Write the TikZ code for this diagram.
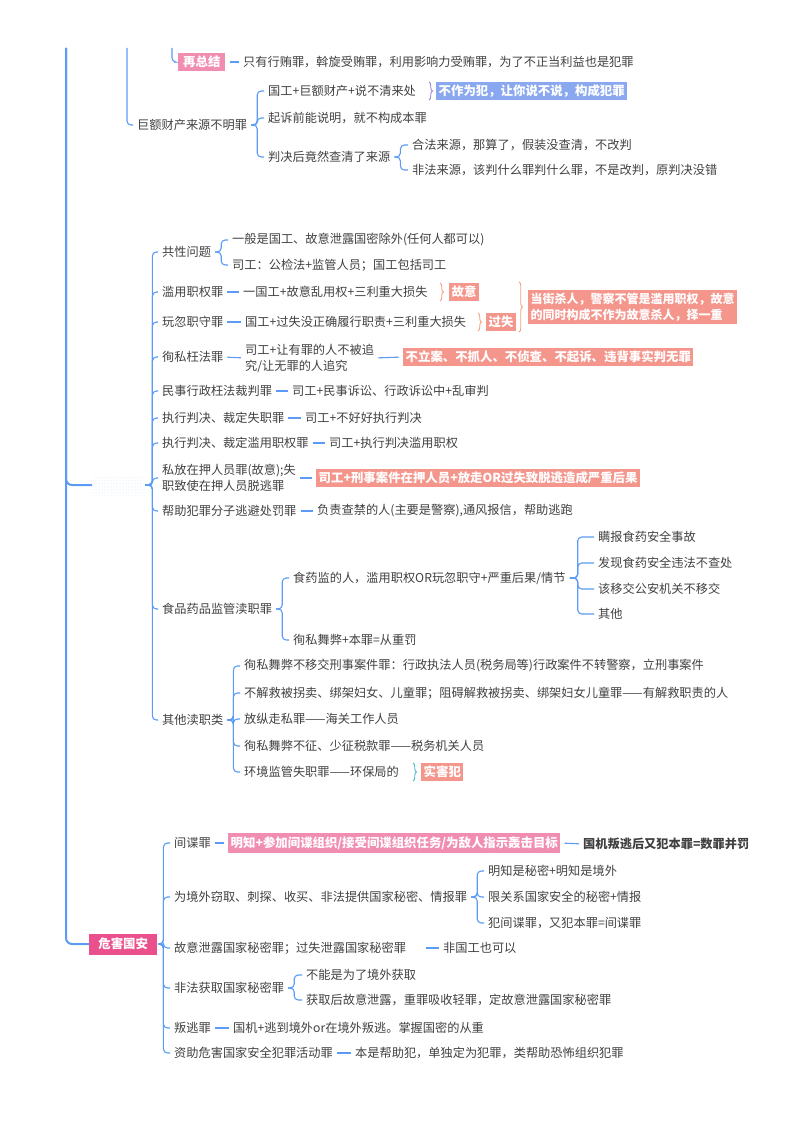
\documentclass[tikz,border=0pt]{standalone}
\usepackage{fontspec}
\usetikzlibrary{patterns,decorations.pathreplacing}
\newfontfamily\cjk{Noto Sans CJK SC}
\definecolor{linkblue}{HTML}{5B9BF5}
\definecolor{txtgray}{HTML}{404040}
\definecolor{tagpink}{HTML}{F28DB2}
\definecolor{tagrose}{HTML}{E9508C}
\definecolor{tagsalmon}{HTML}{F5968D}
\definecolor{tagblue}{HTML}{8AA8F0}
\definecolor{brcviolet}{HTML}{9B7FD8}
\definecolor{brcorange}{HTML}{F4A07A}
\definecolor{brcteal}{HTML}{4DB6C6}

\begin{document}
\begin{tikzpicture}[
  x=1pt, y=-1pt,
  txt/.style={anchor=west,inner sep=0pt,font=\cjk\fontsize{12.2}{16}\selectfont,text=txtgray,align=left},
  tag/.style={anchor=west,inner xsep=2.5pt,inner ysep=3pt,font=\cjk\bfseries\fontsize{12.4}{16}\selectfont,text=white,align=left},
  link/.style={draw=linkblue,line width=1.1pt,rounded corners=4pt,shorten <=4pt,shorten >=4pt},
  trunk/.style={draw=linkblue,line width=2pt,rounded corners=6pt},
  brc/.style={decorate,decoration={brace,amplitude=3.5pt},line width=0.9pt}
]
  \useasboundingbox (0,0) rectangle (800,1132);
  \coordinate (tA) at (66,48);
  \coordinate (tB) at (127,48);
  \coordinate (tC) at (172,48);

  % top part
  \node[tag,fill=tagpink,inner xsep=5pt] (zz) at (178,62) {再总结};
  \node[txt] (zz1) at (243,62) {只有行贿罪，斡旋受贿罪，利用影响力受贿罪，为了不正当利益也是犯罪};
  \node[txt] (jr) at (137,125) {巨额财产来源不明罪};
  \node[txt] (jr1) at (268,91) {国工+巨额财产+说不清来处};
  \node[tag,fill=tagblue] (jr1a) at (436,91) {不作为犯，让你说不说，构成犯罪};
  \node[txt] (jr2) at (268,118) {起诉前能说明，就不构成本罪};
  \node[txt] (jr3) at (268,157) {判决后竟然查清了来源};
  \node[txt] (jr3a) at (412,145) {合法来源，那算了，假装没查清，不改判};
  \node[txt] (jr3b) at (412,170) {非法来源，该判什么罪判什么罪，不是改判，原判决没错};

  \draw[link,shorten <=0pt] (tC) |- (zz.west);
  \draw[link] (zz.east) -- (zz1.west);
  \draw[link,shorten <=0pt] (tB) |- (jr.west);
  \foreach \c in {jr1,jr2,jr3}
    \draw[link] (jr.east) -- ++(10,0) |- (\c.west);
  \foreach \c in {jr3a,jr3b}
    \draw[link] (jr3.east) -- ++(10,0) |- (\c.west);
  \draw[brc,draw=brcviolet] (429,82) -- (429,100);

  % duty crimes
  \node[anchor=west,minimum width=52pt,minimum height=20pt,inner sep=0pt,
        pattern=dots,pattern color=linkblue!30] (dz) at (92,485) {};
  \node[txt] (g1) at (162,252) {共性问题};
  \node[txt] (g1a) at (232,240) {一般是国工、故意泄露国密除外(任何人都可以)};
  \node[txt] (g1b) at (232,265) {司工：公检法+监管人员；国工包括司工};
  \node[txt] (g2) at (162,292) {滥用职权罪};
  \node[txt] (g2a) at (243,292) {一国工+故意乱用权+三利重大损失};
  \node[tag,fill=tagsalmon] (g2b) at (449,292) {故意};
  \node[txt] (g3) at (162,322) {玩忽职守罪};
  \node[txt] (g3a) at (245,322) {国工+过失没正确履行职责+三利重大损失};
  \node[tag,fill=tagsalmon] (g3b) at (486,322) {过失};
  \node[tag,fill=tagsalmon,font=\cjk\bfseries\fontsize{12}{16}\selectfont] (g23) at (528,307) {当街杀人，警察不管是滥用职权，故意\\的同时构成不作为故意杀人，择一重};
  \node[txt] (g4) at (162,357) {徇私枉法罪};
  \node[txt] (g4a) at (245,358) {司工+让有罪的人不被追\\究/让无罪的人追究};
  \node[tag,fill=tagsalmon] (g4b) at (403,357) {不立案、不抓人、不侦查、不起诉、违背事实判无罪};
  \node[txt] (g5) at (162,391) {民事行政枉法裁判罪};
  \node[txt] (g5a) at (292,391) {司工+民事诉讼、行政诉讼中+乱审判};
  \node[txt] (g6) at (162,418) {执行判决、裁定失职罪};
  \node[txt] (g6a) at (305,418) {司工+不好好执行判决};
  \node[txt] (g7) at (162,443) {执行判决、裁定滥用职权罪};
  \node[txt] (g7a) at (329,443) {司工+执行判决滥用职权};
  \node[txt] (g8) at (162,478) {私放在押人员罪(故意);失\\职致使在押人员脱逃罪};
  \node[tag,fill=tagsalmon] (g8a) at (316,478) {司工+刑事案件在押人员+放走OR过失致脱逃造成严重后果};
  \node[txt] (g9) at (162,511) {帮助犯罪分子逃避处罚罪};
  \node[txt] (g9a) at (317,511) {负责查禁的人(主要是警察),通风报信，帮助逃跑};
  \node[txt] (g10) at (162,609) {食品药品监管渎职罪};
  \node[txt] (g10a) at (293,578) {食药监的人，滥用职权OR玩忽职守+严重后果/情节};
  \node[txt] (g10a1) at (598,537) {瞒报食药安全事故};
  \node[txt] (g10a2) at (598,563) {发现食药安全违法不查处};
  \node[txt] (g10a3) at (598,589) {该移交公安机关不移交};
  \node[txt] (g10a4) at (598,614) {其他};
  \node[txt] (g10b) at (293,640) {徇私舞弊+本罪=从重罚};
  \node[txt] (g11) at (162,720) {其他渎职类};
  \node[txt] (g11a) at (244,666) {徇私舞弊不移交刑事案件罪：行政执法人员(税务局等)行政案件不转警察，立刑事案件};
  \node[txt] (g11b) at (244,693) {不解救被拐卖、绑架妇女、儿童罪；阻碍解救被拐卖、绑架妇女儿童罪——有解救职责的人};
  \node[txt] (g11c) at (244,719) {放纵走私罪——海关工作人员};
  \node[txt] (g11d) at (244,746) {徇私舞弊不征、少征税款罪——税务机关人员};
  \node[txt] (g11e) at (244,772) {环境监管失职罪——环保局的};
  \node[tag,fill=tagsalmon] (g11f) at (421,772) {实害犯};

  \draw[trunk] (tA) |- (dz.west);
  \foreach \c in {g1,g2,g3,g4,g5,g6,g7,g8,g9,g10,g11}
    \draw[link,shorten <=1pt] (dz.east) -- ++(8,0) |- (\c.west);
  \foreach \c in {g1a,g1b}
    \draw[link] (g1.east) -- ++(10,0) |- (\c.west);
  \foreach \p in {g2,g3,g5,g6,g7,g9}
    \draw[link] (\p.east) -- (\p a.west);
  \draw[link] (g4.east) -- (g4a.west);
  \draw[link] (g4a.east) -- (g4b.west);
  \draw[link] (g8.east) -- (g8a.west);
  \foreach \c in {g10a,g10b}
    \draw[link] (g10.east) -- ++(10,0) |- (\c.west);
  \foreach \c in {g10a1,g10a2,g10a3,g10a4}
    \draw[link] (g10a.east) -- ++(12,0) |- (\c.west);
  \foreach \c in {g11a,g11b,g11c,g11d,g11e}
    \draw[link] (g11.east) -- ++(10,0) |- (\c.west);
  \draw[brc,draw=brcorange] (440,283) -- (440,301);
  \draw[brc,draw=brcorange] (478,313) -- (478,331);
  \draw[brc,draw=brcorange] (519,282) -- (519,332);
  \draw[brc,draw=brcteal] (413,763) -- (413,781);

  % national security
  \node[tag,fill=tagrose,minimum width=68pt,minimum height=21pt,inner xsep=0pt,
        align=center,anchor=west] (ga) at (89,944) {危害国安};
  \node[txt] (h1) at (174,843) {间谍罪};
  \node[tag,fill=tagpink] (h1a) at (228,843) {明知+参加间谍组织/接受间谍组织任务/为敌人指示轰击目标};
  \node[txt,font=\cjk\bfseries\fontsize{12.2}{14}\selectfont] (h1b) at (583,844) {国机叛逃后又犯本罪=数罪并罚};
  \node[txt] (h2) at (174,897) {为境外窃取、刺探、收买、非法提供国家秘密、情报罪};
  \node[txt] (h2a) at (488,871) {明知是秘密+明知是境外};
  \node[txt] (h2b) at (488,897) {限关系国家安全的秘密+情报};
  \node[txt] (h2c) at (488,923) {犯间谍罪，又犯本罪=间谍罪};
  \node[txt] (h3) at (174,948) {故意泄露国家秘密罪；过失泄露国家秘密罪};
  \node[txt] (h3a) at (443,948) {非国工也可以};
  \node[txt] (h4) at (174,988) {非法获取国家秘密罪};
  \node[txt] (h4a) at (306,975) {不能是为了境外获取};
  \node[txt] (h4b) at (306,1000) {获取后故意泄露，重罪吸收轻罪，定故意泄露国家秘密罪};
  \node[txt] (h5) at (174,1028) {叛逃罪};
  \node[txt] (h5a) at (233,1028) {国机+逃到境外or在境外叛逃。掌握国密的从重};
  \node[txt] (h6) at (174,1053) {资助危害国家安全犯罪活动罪};
  \node[txt] (h6a) at (355,1053) {本是帮助犯，单独定为犯罪，类帮助恐怖组织犯罪};

  \draw[trunk] (tA) |- (ga.west);
  \foreach \c in {h1,h2,h3,h4,h5,h6}
    \draw[link,shorten <=1pt] (ga.east) -- ++(6,0) |- (\c.west);
  \draw[link] (h1.east) -- (h1a.west);
  \draw[link] (h1a.east) -- (h1b.west);
  \foreach \c in {h2a,h2b,h2c}
    \draw[link] (h2.east) -- ++(10,0) |- (\c.west);
  \draw[link,shorten <=20pt] (h3.east) -- (h3a.west);
  \foreach \c in {h4a,h4b}
    \draw[link] (h4.east) -- ++(10,0) |- (\c.west);
  \draw[link] (h5.east) -- (h5a.west);
  \draw[link] (h6.east) -- (h6a.west);
\end{tikzpicture}
\end{document}
